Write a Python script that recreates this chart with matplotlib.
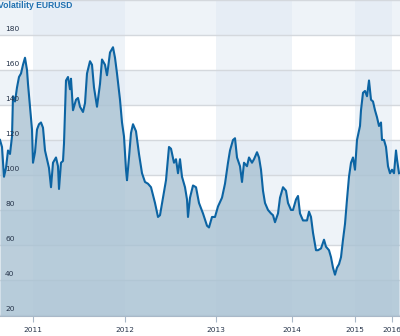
import matplotlib
matplotlib.use("Agg")
import matplotlib.pyplot as plt
from matplotlib.transforms import ScaledTranslation, blended_transform_factory

# observation index (trading-session position) and volatility value
obs = [0, 2, 4, 6, 8, 10, 12, 13, 15, 17, 19, 21, 23, 25, 27, 28, 30, 32, 33, 35,
       37, 39, 41, 43, 45, 47, 49, 51, 53, 56, 58, 59, 61, 63, 64, 66, 68, 70, 71, 73,
       76, 78, 80, 83, 85, 87, 90, 92, 94, 97, 100, 102, 105, 107, 108, 110, 113, 115, 117, 120,
       122, 124, 126, 127, 129, 131, 133, 136, 139, 142, 145, 148, 151, 155, 158, 160, 163, 166, 169, 171,
       174, 176, 178, 180, 182, 185, 187, 188, 190, 193, 196, 199, 203, 207, 209, 212, 215, 218, 222, 225,
       228, 230, 233, 235, 237, 240, 242, 244, 247, 249, 252, 254, 257, 259, 261, 263, 265, 268, 271, 273,
       275, 278, 280, 283, 286, 288, 291, 293, 296, 298, 300, 303, 307, 309, 311, 313, 316, 318, 321, 324,
       326, 329, 331, 333, 335, 337, 339, 341, 343, 345, 347, 349, 351, 353, 355, 357, 360, 361, 363, 365,
       367, 369, 371, 373, 375, 377, 379, 381, 382, 384, 386, 388, 390, 392, 394, 396, 397, 399]
vol = [120, 116, 99, 104, 114, 112, 122, 145, 142, 150, 156, 158, 163, 167, 160, 152, 139, 126, 107, 113,
       126, 129, 130, 127, 114, 109, 104, 93, 107, 110, 105, 92, 107, 108, 118, 154, 156, 149, 155, 137,
       143, 144, 139, 136, 141, 158, 165, 163, 150, 139, 152, 166, 163, 157, 161, 170, 173, 167, 158, 143,
       130, 122, 103, 97, 110, 124, 129, 125, 112, 101, 96, 95, 93, 84, 76, 77, 87, 97, 116, 115,
       107, 109, 101, 109, 99, 93, 86, 76, 87, 94, 93, 84, 78, 71, 70, 76, 76, 82, 87, 95,
       107, 114, 120, 121, 110, 105, 96, 107, 105, 110, 107, 109, 113, 110, 103, 91, 84, 80, 78, 77,
       73, 78, 87, 93, 91, 84, 80, 80, 86, 88, 78, 74, 74, 79, 76, 67, 57, 57, 58, 63,
       59, 57, 53, 47, 43, 47, 49, 53, 63, 72, 86, 99, 107, 110, 103, 120, 128, 137, 147, 148,
       145, 154, 143, 142, 137, 133, 128, 130, 120, 120, 116, 105, 101, 103, 101, 114, 109, 101]

year_pos = [33, 125, 216, 292, 355, 392]
year_labels = ["2011", "2012", "2013", "2014", "2015", "2016"]
y_ticks = [20, 40, 60, 80, 100, 120, 140, 160, 180]
title = "Volatility EURUSD"

W, H = 400, 336
fig = plt.figure(figsize=(W / 100, H / 100), dpi=100)
ax = fig.add_axes([0, 20 / H, 1, 316 / H])
ax.set_xlim(0, 400)
ax.set_ylim(19.4, 200)

band = "#dfe8f3"
# horizontal alternating bands
for lo in [20, 60, 100, 140, 180]:
    ax.axhspan(lo, lo + 20, color=band, alpha=0.5, lw=0, zorder=0)
# vertical alternating year bands
for a, b in [(year_pos[0], year_pos[1]), (year_pos[2], year_pos[3]), (year_pos[4], year_pos[5])]:
    ax.axvspan(a, b, color=band, alpha=0.5, lw=0, zorder=0)

for v in y_ticks + [200]:
    ax.axhline(v, color="#d4d8dd", lw=1.0, zorder=1)

ax.fill_between(obs, vol, 0, color="#a8c1d2", alpha=0.78, lw=0, zorder=2)
ax.plot(obs, vol, color="#0c64a3", lw=1.5, zorder=3, solid_joinstyle="round")

# y labels inside
tr = blended_transform_factory(ax.transAxes, ax.transData)
for v in y_ticks:
    ax.text(5 / 400, v, str(v), transform=tr + ScaledTranslation(0, 2 / 72, fig.dpi_scale_trans),
            ha="left", va="bottom", fontsize=5.4, color="#26344a", zorder=4)

ax.set_yticks([])
ax.set_xticks(year_pos)
ax.set_xticklabels(year_labels, fontsize=5.3, color="#26344a")
ax.tick_params(axis="x", length=4, width=0.8, color="#a9b8c8", pad=4)
for s in ["top", "left", "right"]:
    ax.spines[s].set_visible(False)
ax.spines["bottom"].set_color("#a9b8c8")
ax.spines["bottom"].set_linewidth(0.8)

fig.text(-0.004, 1 - 6 / H, title, ha="left", va="center", fontsize=6.2,
         fontweight="bold", color="#1f70b0", family=["Liberation Sans", "DejaVu Sans"])

fig.savefig("out.png", dpi=100)
